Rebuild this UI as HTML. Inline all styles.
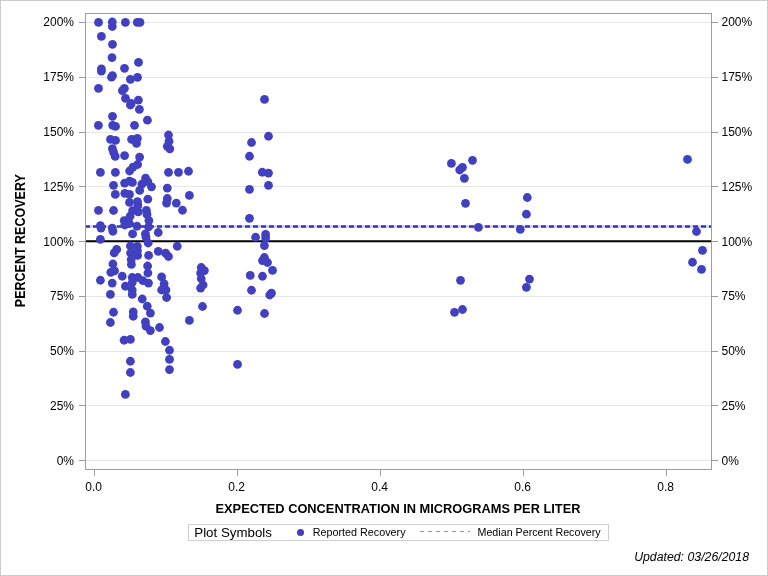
<!DOCTYPE html>
<html><head><meta charset="utf-8"><title>Percent Recovery</title>
<style>
html,body{margin:0;padding:0;background:#fff;}
svg{display:block;}
text{font-family:"Liberation Sans",Arial,sans-serif;fill:#000;}
</style></head><body>
<svg width="768" height="576" viewBox="0 0 768 576">
<rect x="0.5" y="0.5" width="767" height="575" fill="#fff" stroke="#cccccc" stroke-width="1"/>

<line x1="86" y1="460.5" x2="711" y2="460.5" stroke="#e6e6e6" stroke-width="1"/>
<line x1="86" y1="405.5" x2="711" y2="405.5" stroke="#e6e6e6" stroke-width="1"/>
<line x1="86" y1="351.5" x2="711" y2="351.5" stroke="#e6e6e6" stroke-width="1"/>
<line x1="86" y1="296.5" x2="711" y2="296.5" stroke="#e6e6e6" stroke-width="1"/>
<line x1="86" y1="241.5" x2="711" y2="241.5" stroke="#e6e6e6" stroke-width="1"/>
<line x1="86" y1="186.5" x2="711" y2="186.5" stroke="#e6e6e6" stroke-width="1"/>
<line x1="86" y1="132.5" x2="711" y2="132.5" stroke="#e6e6e6" stroke-width="1"/>
<line x1="86" y1="77.5" x2="711" y2="77.5" stroke="#e6e6e6" stroke-width="1"/>
<line x1="86" y1="22.5" x2="711" y2="22.5" stroke="#e6e6e6" stroke-width="1"/>
<line x1="86" y1="241.3" x2="711" y2="241.3" stroke="#000" stroke-width="2"/>
<line x1="86" y1="226.5" x2="711" y2="226.5" stroke="#c4c4ee" stroke-width="2"/>
<line x1="85" y1="226.5" x2="711" y2="226.5" stroke="#3535c0" stroke-width="2.5" stroke-dasharray="5 3"/>
<rect x="85.5" y="13.5" width="626" height="456" fill="none" stroke="#999ea3" stroke-width="1"/>
<line x1="79" y1="460.5" x2="85" y2="460.5" stroke="#999ea3" stroke-width="1"/>
<line x1="712" y1="460.5" x2="718" y2="460.5" stroke="#999ea3" stroke-width="1"/>
<text x="74" y="464.9" font-size="12" text-anchor="end">0%</text>
<text x="721.5" y="464.9" font-size="12">0%</text>
<line x1="79" y1="405.5" x2="85" y2="405.5" stroke="#999ea3" stroke-width="1"/>
<line x1="712" y1="405.5" x2="718" y2="405.5" stroke="#999ea3" stroke-width="1"/>
<text x="74" y="409.9" font-size="12" text-anchor="end">25%</text>
<text x="721.5" y="409.9" font-size="12">25%</text>
<line x1="79" y1="351.5" x2="85" y2="351.5" stroke="#999ea3" stroke-width="1"/>
<line x1="712" y1="351.5" x2="718" y2="351.5" stroke="#999ea3" stroke-width="1"/>
<text x="74" y="354.9" font-size="12" text-anchor="end">50%</text>
<text x="721.5" y="354.9" font-size="12">50%</text>
<line x1="79" y1="296.5" x2="85" y2="296.5" stroke="#999ea3" stroke-width="1"/>
<line x1="712" y1="296.5" x2="718" y2="296.5" stroke="#999ea3" stroke-width="1"/>
<text x="74" y="299.9" font-size="12" text-anchor="end">75%</text>
<text x="721.5" y="299.9" font-size="12">75%</text>
<line x1="79" y1="241.5" x2="85" y2="241.5" stroke="#999ea3" stroke-width="1"/>
<line x1="712" y1="241.5" x2="718" y2="241.5" stroke="#999ea3" stroke-width="1"/>
<text x="74" y="245.9" font-size="12" text-anchor="end">100%</text>
<text x="721.5" y="245.9" font-size="12">100%</text>
<line x1="79" y1="186.5" x2="85" y2="186.5" stroke="#999ea3" stroke-width="1"/>
<line x1="712" y1="186.5" x2="718" y2="186.5" stroke="#999ea3" stroke-width="1"/>
<text x="74" y="190.9" font-size="12" text-anchor="end">125%</text>
<text x="721.5" y="190.9" font-size="12">125%</text>
<line x1="79" y1="132.5" x2="85" y2="132.5" stroke="#999ea3" stroke-width="1"/>
<line x1="712" y1="132.5" x2="718" y2="132.5" stroke="#999ea3" stroke-width="1"/>
<text x="74" y="135.9" font-size="12" text-anchor="end">150%</text>
<text x="721.5" y="135.9" font-size="12">150%</text>
<line x1="79" y1="77.5" x2="85" y2="77.5" stroke="#999ea3" stroke-width="1"/>
<line x1="712" y1="77.5" x2="718" y2="77.5" stroke="#999ea3" stroke-width="1"/>
<text x="74" y="80.9" font-size="12" text-anchor="end">175%</text>
<text x="721.5" y="80.9" font-size="12">175%</text>
<line x1="79" y1="22.5" x2="85" y2="22.5" stroke="#999ea3" stroke-width="1"/>
<line x1="712" y1="22.5" x2="718" y2="22.5" stroke="#999ea3" stroke-width="1"/>
<text x="74" y="25.9" font-size="12" text-anchor="end">200%</text>
<text x="721.5" y="25.9" font-size="12">200%</text>
<line x1="94.5" y1="470" x2="94.5" y2="476" stroke="#999ea3" stroke-width="1"/>
<text x="93.7" y="491" font-size="12" text-anchor="middle">0.0</text>
<line x1="237.5" y1="470" x2="237.5" y2="476" stroke="#999ea3" stroke-width="1"/>
<text x="236.7" y="491" font-size="12" text-anchor="middle">0.2</text>
<line x1="380.5" y1="470" x2="380.5" y2="476" stroke="#999ea3" stroke-width="1"/>
<text x="379.7" y="491" font-size="12" text-anchor="middle">0.4</text>
<line x1="523.5" y1="470" x2="523.5" y2="476" stroke="#999ea3" stroke-width="1"/>
<text x="522.7" y="491" font-size="12" text-anchor="middle">0.6</text>
<line x1="666.5" y1="470" x2="666.5" y2="476" stroke="#999ea3" stroke-width="1"/>
<text x="665.7" y="491" font-size="12" text-anchor="middle">0.8</text>
<text x="215.5" y="513" font-size="13" font-weight="bold" textLength="365" lengthAdjust="spacingAndGlyphs">EXPECTED CONCENTRATION IN MICROGRAMS PER LITER</text>
<text transform="translate(24.6,307.2) rotate(-90)" font-size="14.4" font-weight="bold" textLength="133" lengthAdjust="spacingAndGlyphs">PERCENT RECOVERY</text>
<rect x="188.5" y="524.5" width="420" height="16" fill="none" stroke="#cfcfcf" stroke-width="1"/>
<text x="194.3" y="536.8" font-size="13.3">Plot Symbols</text>
<circle cx="300.5" cy="532.5" r="3.5" fill="#4040c0"/>
<text x="312.7" y="535.8" font-size="11" textLength="92.9" lengthAdjust="spacingAndGlyphs">Reported Recovery</text>
<line x1="420" y1="531.5" x2="470" y2="531.5" stroke="#8c8ce6" stroke-width="1" stroke-dasharray="4 4"/>
<text x="477.5" y="535.8" font-size="11" textLength="123.1" lengthAdjust="spacingAndGlyphs">Median Percent Recovery</text>
<text x="749" y="561" font-size="12.3" font-style="italic" text-anchor="end">Updated: 03/26/2018</text>
<circle cx="98.5" cy="22.4" r="4.4" fill="#4040c0"/>
<circle cx="112.3" cy="22.0" r="4.4" fill="#4040c0"/>
<circle cx="112.3" cy="26.5" r="4.4" fill="#4040c0"/>
<circle cx="125.4" cy="22.4" r="4.4" fill="#4040c0"/>
<circle cx="137.3" cy="22.4" r="4.4" fill="#4040c0"/>
<circle cx="140.0" cy="22.4" r="4.4" fill="#4040c0"/>
<circle cx="101.4" cy="36.4" r="4.4" fill="#4040c0"/>
<circle cx="112.5" cy="44.3" r="4.4" fill="#4040c0"/>
<circle cx="112.0" cy="57.6" r="4.4" fill="#4040c0"/>
<circle cx="138.5" cy="62.4" r="4.4" fill="#4040c0"/>
<circle cx="101.4" cy="68.8" r="4.4" fill="#4040c0"/>
<circle cx="101.4" cy="71.2" r="4.4" fill="#4040c0"/>
<circle cx="124.5" cy="68.3" r="4.4" fill="#4040c0"/>
<circle cx="112.5" cy="75.6" r="4.4" fill="#4040c0"/>
<circle cx="111.5" cy="77.2" r="4.4" fill="#4040c0"/>
<circle cx="130.4" cy="79.3" r="4.4" fill="#4040c0"/>
<circle cx="137.5" cy="77.4" r="4.4" fill="#4040c0"/>
<circle cx="98.5" cy="88.4" r="4.4" fill="#4040c0"/>
<circle cx="124.4" cy="88.4" r="4.4" fill="#4040c0"/>
<circle cx="122.4" cy="90.6" r="4.4" fill="#4040c0"/>
<circle cx="125.5" cy="98.4" r="4.4" fill="#4040c0"/>
<circle cx="131.2" cy="103.4" r="4.4" fill="#4040c0"/>
<circle cx="130.4" cy="105.0" r="4.4" fill="#4040c0"/>
<circle cx="138.4" cy="100.1" r="4.4" fill="#4040c0"/>
<circle cx="139.4" cy="109.4" r="4.4" fill="#4040c0"/>
<circle cx="112.5" cy="116.3" r="4.4" fill="#4040c0"/>
<circle cx="147.4" cy="120.2" r="4.4" fill="#4040c0"/>
<circle cx="98.4" cy="125.3" r="4.4" fill="#4040c0"/>
<circle cx="112.7" cy="125.4" r="4.4" fill="#4040c0"/>
<circle cx="115.5" cy="126.4" r="4.4" fill="#4040c0"/>
<circle cx="134.5" cy="125.3" r="4.4" fill="#4040c0"/>
<circle cx="110.5" cy="139.4" r="4.4" fill="#4040c0"/>
<circle cx="115.5" cy="140.4" r="4.4" fill="#4040c0"/>
<circle cx="131.6" cy="139.3" r="4.4" fill="#4040c0"/>
<circle cx="137.4" cy="138.4" r="4.4" fill="#4040c0"/>
<circle cx="136.5" cy="143.4" r="4.4" fill="#4040c0"/>
<circle cx="168.5" cy="135.0" r="4.4" fill="#4040c0"/>
<circle cx="169.0" cy="141.3" r="4.4" fill="#4040c0"/>
<circle cx="167.3" cy="146.3" r="4.4" fill="#4040c0"/>
<circle cx="169.8" cy="148.8" r="4.4" fill="#4040c0"/>
<circle cx="112.4" cy="148.7" r="4.4" fill="#4040c0"/>
<circle cx="115.2" cy="156.4" r="4.4" fill="#4040c0"/>
<circle cx="124.6" cy="155.6" r="4.4" fill="#4040c0"/>
<circle cx="139.6" cy="157.1" r="4.4" fill="#4040c0"/>
<circle cx="137.6" cy="164.5" r="4.4" fill="#4040c0"/>
<circle cx="133.0" cy="167.1" r="4.4" fill="#4040c0"/>
<circle cx="129.6" cy="171.0" r="4.4" fill="#4040c0"/>
<circle cx="115.4" cy="172.4" r="4.4" fill="#4040c0"/>
<circle cx="100.4" cy="172.3" r="4.4" fill="#4040c0"/>
<circle cx="168.5" cy="172.3" r="4.4" fill="#4040c0"/>
<circle cx="178.5" cy="172.3" r="4.4" fill="#4040c0"/>
<circle cx="145.6" cy="178.2" r="4.4" fill="#4040c0"/>
<circle cx="113.5" cy="185.3" r="4.4" fill="#4040c0"/>
<circle cx="124.6" cy="183.1" r="4.4" fill="#4040c0"/>
<circle cx="129.5" cy="181.1" r="4.4" fill="#4040c0"/>
<circle cx="132.4" cy="182.4" r="4.4" fill="#4040c0"/>
<circle cx="151.5" cy="186.8" r="4.4" fill="#4040c0"/>
<circle cx="141.9" cy="184.2" r="4.4" fill="#4040c0"/>
<circle cx="139.7" cy="190.4" r="4.4" fill="#4040c0"/>
<circle cx="115.3" cy="194.4" r="4.4" fill="#4040c0"/>
<circle cx="124.8" cy="193.3" r="4.4" fill="#4040c0"/>
<circle cx="129.5" cy="194.4" r="4.4" fill="#4040c0"/>
<circle cx="147.8" cy="199.2" r="4.4" fill="#4040c0"/>
<circle cx="129.5" cy="202.4" r="4.4" fill="#4040c0"/>
<circle cx="137.5" cy="201.6" r="4.4" fill="#4040c0"/>
<circle cx="137.9" cy="205.4" r="4.4" fill="#4040c0"/>
<circle cx="113.5" cy="210.5" r="4.4" fill="#4040c0"/>
<circle cx="98.5" cy="210.3" r="4.4" fill="#4040c0"/>
<circle cx="167.3" cy="188.1" r="4.4" fill="#4040c0"/>
<circle cx="167.3" cy="198.5" r="4.4" fill="#4040c0"/>
<circle cx="166.6" cy="203.1" r="4.4" fill="#4040c0"/>
<circle cx="176.3" cy="203.1" r="4.4" fill="#4040c0"/>
<circle cx="182.5" cy="210.25" r="4.4" fill="#4040c0"/>
<circle cx="132.6" cy="210.6" r="4.4" fill="#4040c0"/>
<circle cx="138.25" cy="211.9" r="4.4" fill="#4040c0"/>
<circle cx="146.4" cy="210.3" r="4.4" fill="#4040c0"/>
<circle cx="147.0" cy="214.4" r="4.4" fill="#4040c0"/>
<circle cx="148.9" cy="220.6" r="4.4" fill="#4040c0"/>
<circle cx="148.6" cy="226.9" r="4.4" fill="#4040c0"/>
<circle cx="137.0" cy="226.25" r="4.4" fill="#4040c0"/>
<circle cx="124.2" cy="220.6" r="4.4" fill="#4040c0"/>
<circle cx="124.8" cy="225.0" r="4.4" fill="#4040c0"/>
<circle cx="130.1" cy="216.25" r="4.4" fill="#4040c0"/>
<circle cx="129.5" cy="223.5" r="4.4" fill="#4040c0"/>
<circle cx="132.6" cy="233.9" r="4.4" fill="#4040c0"/>
<circle cx="145.4" cy="233.9" r="4.4" fill="#4040c0"/>
<circle cx="100.4" cy="225.6" r="4.4" fill="#4040c0"/>
<circle cx="101.0" cy="228.1" r="4.4" fill="#4040c0"/>
<circle cx="112.25" cy="228.1" r="4.4" fill="#4040c0"/>
<circle cx="112.9" cy="231.25" r="4.4" fill="#4040c0"/>
<circle cx="158.25" cy="232.5" r="4.4" fill="#4040c0"/>
<circle cx="100.4" cy="239.4" r="4.4" fill="#4040c0"/>
<circle cx="146.0" cy="237.25" r="4.4" fill="#4040c0"/>
<circle cx="148.2" cy="243.0" r="4.4" fill="#4040c0"/>
<circle cx="130.4" cy="246.0" r="4.4" fill="#4040c0"/>
<circle cx="130.5" cy="253.0" r="4.4" fill="#4040c0"/>
<circle cx="131.2" cy="259.5" r="4.4" fill="#4040c0"/>
<circle cx="131.4" cy="264.4" r="4.4" fill="#4040c0"/>
<circle cx="137.3" cy="246.3" r="4.4" fill="#4040c0"/>
<circle cx="137.4" cy="250.5" r="4.4" fill="#4040c0"/>
<circle cx="137.6" cy="255.4" r="4.4" fill="#4040c0"/>
<circle cx="116.7" cy="249.4" r="4.4" fill="#4040c0"/>
<circle cx="114.2" cy="252.9" r="4.4" fill="#4040c0"/>
<circle cx="112.9" cy="264.0" r="4.4" fill="#4040c0"/>
<circle cx="110.8" cy="272.3" r="4.4" fill="#4040c0"/>
<circle cx="114.6" cy="270.8" r="4.4" fill="#4040c0"/>
<circle cx="148.6" cy="255.4" r="4.4" fill="#4040c0"/>
<circle cx="158.25" cy="251.3" r="4.4" fill="#4040c0"/>
<circle cx="147.6" cy="266.0" r="4.4" fill="#4040c0"/>
<circle cx="147.9" cy="273.0" r="4.4" fill="#4040c0"/>
<circle cx="165.6" cy="253.1" r="4.4" fill="#4040c0"/>
<circle cx="168.5" cy="256.5" r="4.4" fill="#4040c0"/>
<circle cx="177.25" cy="246.25" r="4.4" fill="#4040c0"/>
<circle cx="100.4" cy="280.25" r="4.4" fill="#4040c0"/>
<circle cx="122.25" cy="276.25" r="4.4" fill="#4040c0"/>
<circle cx="112.25" cy="283.1" r="4.4" fill="#4040c0"/>
<circle cx="110.4" cy="294.4" r="4.4" fill="#4040c0"/>
<circle cx="132.25" cy="277.5" r="4.4" fill="#4040c0"/>
<circle cx="137.9" cy="277.5" r="4.4" fill="#4040c0"/>
<circle cx="142.9" cy="280.6" r="4.4" fill="#4040c0"/>
<circle cx="148.5" cy="283.1" r="4.4" fill="#4040c0"/>
<circle cx="125.4" cy="286.25" r="4.4" fill="#4040c0"/>
<circle cx="132.25" cy="282.5" r="4.4" fill="#4040c0"/>
<circle cx="132.25" cy="290.0" r="4.4" fill="#4040c0"/>
<circle cx="132.25" cy="294.4" r="4.4" fill="#4040c0"/>
<circle cx="161.6" cy="276.9" r="4.4" fill="#4040c0"/>
<circle cx="164.1" cy="283.75" r="4.4" fill="#4040c0"/>
<circle cx="161.6" cy="290.0" r="4.4" fill="#4040c0"/>
<circle cx="166.0" cy="290.0" r="4.4" fill="#4040c0"/>
<circle cx="166.6" cy="297.5" r="4.4" fill="#4040c0"/>
<circle cx="142.25" cy="299.0" r="4.4" fill="#4040c0"/>
<circle cx="147.25" cy="306.25" r="4.4" fill="#4040c0"/>
<circle cx="150.4" cy="313.1" r="4.4" fill="#4040c0"/>
<circle cx="113.5" cy="312.25" r="4.4" fill="#4040c0"/>
<circle cx="133.25" cy="311.9" r="4.4" fill="#4040c0"/>
<circle cx="133.25" cy="316.25" r="4.4" fill="#4040c0"/>
<circle cx="110.4" cy="322.5" r="4.4" fill="#4040c0"/>
<circle cx="145.4" cy="321.9" r="4.4" fill="#4040c0"/>
<circle cx="146.0" cy="326.25" r="4.4" fill="#4040c0"/>
<circle cx="150.4" cy="330.6" r="4.4" fill="#4040c0"/>
<circle cx="159.5" cy="327.5" r="4.4" fill="#4040c0"/>
<circle cx="124.1" cy="340.25" r="4.4" fill="#4040c0"/>
<circle cx="130.4" cy="339.4" r="4.4" fill="#4040c0"/>
<circle cx="165.4" cy="341.5" r="4.4" fill="#4040c0"/>
<circle cx="169.5" cy="350.25" r="4.4" fill="#4040c0"/>
<circle cx="169.5" cy="359.4" r="4.4" fill="#4040c0"/>
<circle cx="169.5" cy="369.6" r="4.4" fill="#4040c0"/>
<circle cx="130.4" cy="361.25" r="4.4" fill="#4040c0"/>
<circle cx="130.4" cy="372.5" r="4.4" fill="#4040c0"/>
<circle cx="125.4" cy="394.4" r="4.4" fill="#4040c0"/>
<circle cx="188.5" cy="171.25" r="4.4" fill="#4040c0"/>
<circle cx="189.4" cy="195.4" r="4.4" fill="#4040c0"/>
<circle cx="201.25" cy="267.5" r="4.4" fill="#4040c0"/>
<circle cx="204.4" cy="270.6" r="4.4" fill="#4040c0"/>
<circle cx="200.6" cy="273.1" r="4.4" fill="#4040c0"/>
<circle cx="201.25" cy="278.75" r="4.4" fill="#4040c0"/>
<circle cx="203.1" cy="285.0" r="4.4" fill="#4040c0"/>
<circle cx="200.6" cy="288.1" r="4.4" fill="#4040c0"/>
<circle cx="202.5" cy="306.5" r="4.4" fill="#4040c0"/>
<circle cx="189.4" cy="320.4" r="4.4" fill="#4040c0"/>
<circle cx="237.5" cy="310.25" r="4.4" fill="#4040c0"/>
<circle cx="237.5" cy="364.4" r="4.4" fill="#4040c0"/>
<circle cx="264.5" cy="99.4" r="4.4" fill="#4040c0"/>
<circle cx="268.5" cy="136.25" r="4.4" fill="#4040c0"/>
<circle cx="251.5" cy="142.5" r="4.4" fill="#4040c0"/>
<circle cx="249.5" cy="156.25" r="4.4" fill="#4040c0"/>
<circle cx="262.25" cy="172.25" r="4.4" fill="#4040c0"/>
<circle cx="268.5" cy="173.1" r="4.4" fill="#4040c0"/>
<circle cx="268.5" cy="185.4" r="4.4" fill="#4040c0"/>
<circle cx="249.5" cy="189.4" r="4.4" fill="#4040c0"/>
<circle cx="249.5" cy="218.3" r="4.4" fill="#4040c0"/>
<circle cx="255.6" cy="237.25" r="4.4" fill="#4040c0"/>
<circle cx="265.6" cy="234.4" r="4.4" fill="#4040c0"/>
<circle cx="265.6" cy="238.1" r="4.4" fill="#4040c0"/>
<circle cx="264.4" cy="245.6" r="4.4" fill="#4040c0"/>
<circle cx="264.4" cy="257.5" r="4.4" fill="#4040c0"/>
<circle cx="262.5" cy="260.6" r="4.4" fill="#4040c0"/>
<circle cx="267.5" cy="262.5" r="4.4" fill="#4040c0"/>
<circle cx="272.5" cy="270.4" r="4.4" fill="#4040c0"/>
<circle cx="250.25" cy="275.4" r="4.4" fill="#4040c0"/>
<circle cx="262.5" cy="276.25" r="4.4" fill="#4040c0"/>
<circle cx="251.5" cy="290.25" r="4.4" fill="#4040c0"/>
<circle cx="269.75" cy="295.0" r="4.4" fill="#4040c0"/>
<circle cx="271.5" cy="293.1" r="4.4" fill="#4040c0"/>
<circle cx="264.5" cy="313.5" r="4.4" fill="#4040c0"/>
<circle cx="451.4" cy="163.4" r="4.4" fill="#4040c0"/>
<circle cx="462.5" cy="167.3" r="4.4" fill="#4040c0"/>
<circle cx="459.7" cy="170.0" r="4.4" fill="#4040c0"/>
<circle cx="472.5" cy="160.3" r="4.4" fill="#4040c0"/>
<circle cx="464.4" cy="178.3" r="4.4" fill="#4040c0"/>
<circle cx="465.5" cy="203.3" r="4.4" fill="#4040c0"/>
<circle cx="527.3" cy="197.5" r="4.4" fill="#4040c0"/>
<circle cx="526.4" cy="214.2" r="4.4" fill="#4040c0"/>
<circle cx="478.4" cy="227.3" r="4.4" fill="#4040c0"/>
<circle cx="520.3" cy="229.4" r="4.4" fill="#4040c0"/>
<circle cx="460.5" cy="280.3" r="4.4" fill="#4040c0"/>
<circle cx="529.5" cy="279.1" r="4.4" fill="#4040c0"/>
<circle cx="526.4" cy="287.3" r="4.4" fill="#4040c0"/>
<circle cx="454.5" cy="312.3" r="4.4" fill="#4040c0"/>
<circle cx="462.5" cy="309.5" r="4.4" fill="#4040c0"/>
<circle cx="687.5" cy="159.4" r="4.4" fill="#4040c0"/>
<circle cx="696.5" cy="231.5" r="4.4" fill="#4040c0"/>
<circle cx="702.5" cy="250.4" r="4.4" fill="#4040c0"/>
<circle cx="692.5" cy="262.25" r="4.4" fill="#4040c0"/>
<circle cx="701.5" cy="269.4" r="4.4" fill="#4040c0"/>
<circle cx="147.8" cy="181.6" r="4.4" fill="#4040c0"/>
<circle cx="113.6" cy="152.4" r="4.4" fill="#4040c0"/>
</svg>
</body></html>
